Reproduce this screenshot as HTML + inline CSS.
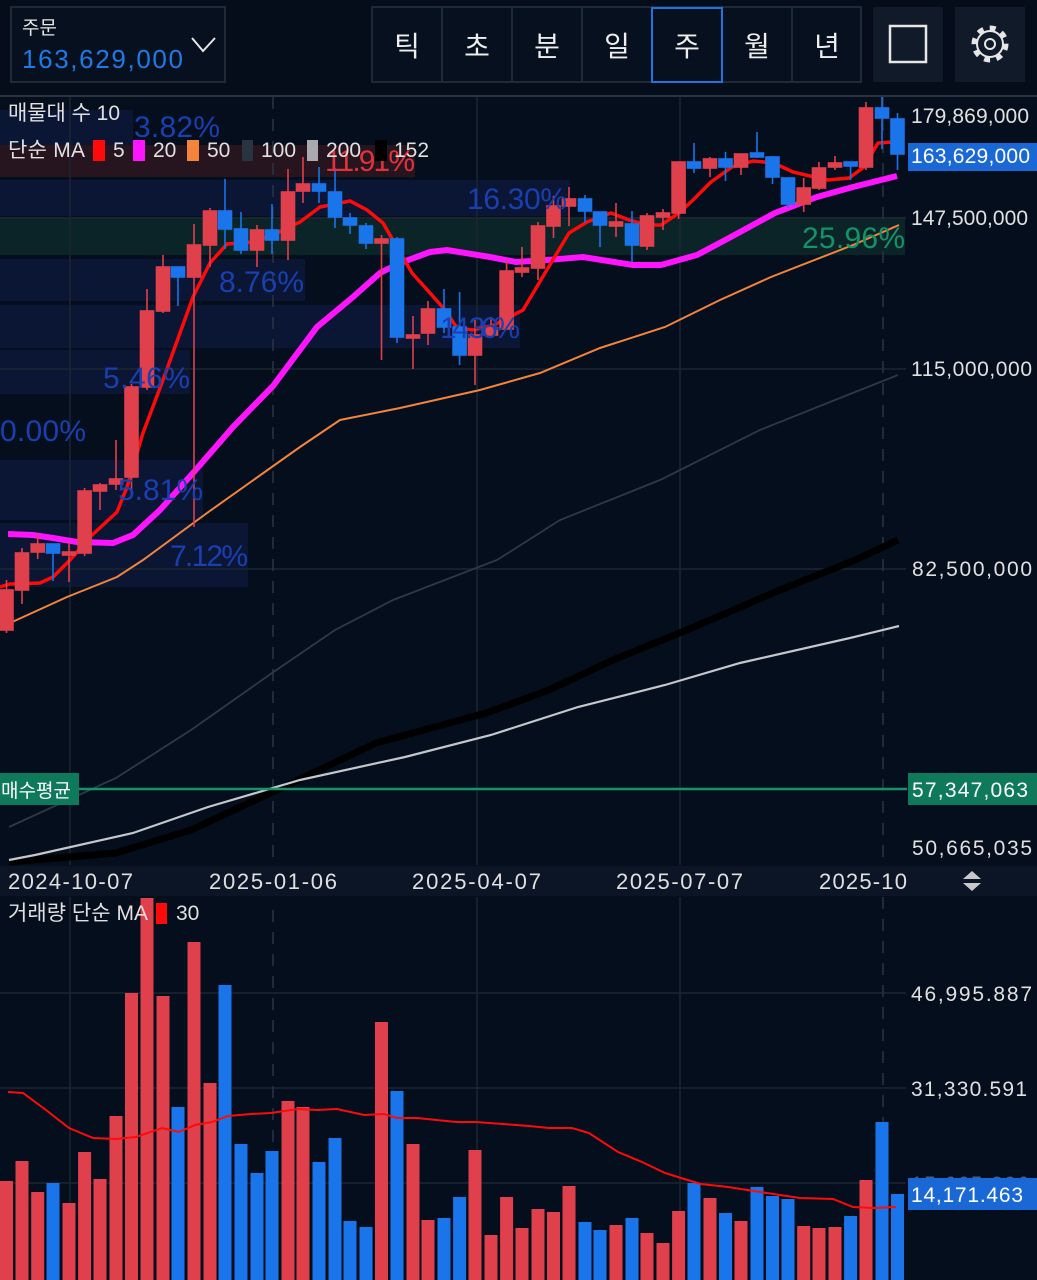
<!DOCTYPE html>
<html><head><meta charset="utf-8"><style>
html,body{margin:0;padding:0;background:#050d1b;}
svg{display:block;font-family:"Liberation Sans","Noto Sans CJK KR",sans-serif;}
</style></head><body>
<svg width="1037" height="1280" viewBox="0 0 1037 1280" xmlns="http://www.w3.org/2000/svg">
<rect width="1037" height="1280" fill="#050e1c"/>
<rect x="0" y="0" width="1037" height="95" fill="#050d1a"/>
<rect x="11" y="7" width="214" height="75" fill="#07101e" stroke="#1f2a38" stroke-width="2"/>
<text x="22" y="34" fill="#e6e6e6" font-size="19">주문</text>
<text x="22" y="68" fill="#1f7ae6" font-size="26" textLength="161">163,629,000</text>
<polyline points="192,38 203,51 215,38" fill="none" stroke="#e6e6e6" stroke-width="2"/>
<rect x="372" y="7" width="489" height="75" fill="#07101e" stroke="#1f2a38" stroke-width="2"/>
<g stroke="#1f2a38" stroke-width="2"><line x1="442" y1="8" x2="442" y2="81"/><line x1="512" y1="8" x2="512" y2="81"/><line x1="582" y1="8" x2="582" y2="81"/><line x1="652" y1="8" x2="652" y2="81"/><line x1="722" y1="8" x2="722" y2="81"/><line x1="792" y1="8" x2="792" y2="81"/></g>
<rect x="652" y="8" width="70" height="74" fill="none" stroke="#1f74e0" stroke-width="2"/>
<g fill="#eeeeee" font-size="28" text-anchor="middle"><text x="407" y="56">틱</text><text x="477" y="56">초</text><text x="547" y="56">분</text><text x="617" y="56">일</text><text x="687" y="56">주</text><text x="757" y="56">월</text><text x="827" y="56">년</text></g>
<rect x="873" y="7" width="70" height="75" fill="#111a28"/>
<rect x="890" y="26" width="36" height="36" fill="none" stroke="#e6e6e6" stroke-width="2.5"/>
<rect x="955" y="7" width="70" height="75" fill="#111a28"/>
<circle cx="990" cy="44" r="16" fill="none" stroke="#e6e6e6" stroke-width="5" stroke-dasharray="6 6.5"/>
<circle cx="990" cy="44" r="13" fill="#111a28" stroke="#e6e6e6" stroke-width="2"/>
<circle cx="990" cy="44" r="5" fill="none" stroke="#e6e6e6" stroke-width="2"/>
<line x1="0" y1="96" x2="1037" y2="96" stroke="#2a3340" stroke-width="2"/>

<g fill="#0a1634">
<rect x="0" y="110" width="133" height="35"/>
<rect x="0" y="180" width="570" height="36"/>
<rect x="0" y="259" width="305" height="42"/>
<rect x="0" y="305" width="520" height="43"/>
<rect x="0" y="350" width="190" height="44"/>
<rect x="0" y="460" width="203" height="60"/>
<rect x="0" y="523" width="248" height="64"/>
</g>
<rect x="0" y="145" width="415" height="32" fill="#26151f"/>
<rect x="0" y="217" width="905" height="38" fill="#0a2427"/>

<g stroke="#1c2532" stroke-width="1.5">
<line x1="0" y1="218" x2="906" y2="218"/><line x1="0" y1="369" x2="906" y2="369"/><line x1="0" y1="569" x2="906" y2="569"/>
<line x1="70" y1="97" x2="70" y2="865"/><line x1="477" y1="97" x2="477" y2="865"/><line x1="680" y1="97" x2="680" y2="865"/>
<line x1="70" y1="897" x2="70" y2="1280"/><line x1="477" y1="897" x2="477" y2="1280"/><line x1="680" y1="897" x2="680" y2="1280"/>
<line x1="0" y1="993" x2="906" y2="993"/><line x1="0" y1="1088" x2="906" y2="1088"/><line x1="0" y1="1183" x2="906" y2="1183"/>
</g>
<g stroke="#2a3442" stroke-width="1.5" stroke-dasharray="12 10">
<line x1="273" y1="97" x2="273" y2="865"/><line x1="273" y1="910" x2="273" y2="1280"/>
<line x1="883" y1="97" x2="883" y2="865"/><line x1="883" y1="897" x2="883" y2="1280"/>
</g>

<polyline fill="none" stroke="#2f3946" stroke-width="1.8" points="9,827 116,778 191,730 272,673 335,630 393,600 497,560 560,520 660,480 760,430 840,398 898,375"/>
<polyline fill="none" stroke="#000000" stroke-width="7" points="9,862 116,853 191,830 277,790 376,743 486,713 549,690 613,660 694,627 780,590 855,560 898,540"/>
<polyline fill="none" stroke="#c4c8cc" stroke-width="2.2" points="9,860 35,855 133,833 208,807 300,780 405,757 491,735 578,707 665,685 740,663 850,638 899,626"/>
<polyline fill="none" stroke="#f4843c" stroke-width="2" points="10,623 67,597 117,577 143,560 207,513 300,447 340,420 400,408 480,390 540,373 600,348 665,327 720,300 771,277 853,245 899,225"/>
<polyline fill="none" stroke="#ff14ff" stroke-width="6" points="8,534 33,535 53,538 77,542 113,543 133,535 160,510 193,473 233,427 273,386 317,327 353,297 380,273 400,263 430,252 447,250 490,257 516,262 547,260 583,257 633,265 661,265 697,255 729,238 775,213 817,197 853,187 897,176"/>
<polyline fill="none" stroke="#ff0a0a" stroke-width="3.5" points="0,587 10,584 40,583 53,577 70,560 90,537 117,512 127,487 143,433 163,380 193,297 210,263 227,244 253,242 277,233 300,222 320,207 350,201 367,210 383,223 412,273 430,293 445,310 457,328 473,330 494,325 523,310 551,263 569,233 587,222 611,213 629,220 647,225 661,225 679,213 693,200 711,182 732,167 753,161 764,162 778,165 793,172 810,176 828,180 849,178 864,167 878,143 892,142"/>

<line x1="0" y1="789" x2="907" y2="789" stroke="#15946a" stroke-width="2.5"/>
<rect x="0" y="773" width="79" height="32" fill="#0f7a5b"/>
<text x="1" y="797" fill="#ffffff" font-size="19">매수평균</text>

<g stroke-width="1.6">
<g stroke="#e0404b" fill="#e0404b">
<line x1="6.5" y1="580" x2="6.5" y2="633"/><rect x="0" y="590" width="13" height="40"/>
<line x1="22" y1="548" x2="22" y2="604"/><rect x="15.5" y="553" width="13" height="37"/>
<line x1="37.7" y1="534" x2="37.7" y2="559"/><rect x="31.2" y="544" width="13" height="8"/>
<line x1="69" y1="542" x2="69" y2="582"/><rect x="62.5" y="552" width="13" height="3"/>
<line x1="84.6" y1="488" x2="84.6" y2="556"/><rect x="78.1" y="491" width="13" height="62"/>
<line x1="100" y1="483" x2="100" y2="510"/><rect x="93.5" y="485" width="13" height="6"/>
<line x1="116" y1="440" x2="116" y2="490"/><rect x="109.5" y="479" width="13" height="5"/>
<line x1="131.5" y1="384" x2="131.5" y2="495"/><rect x="125" y="387" width="13" height="90"/>
<line x1="147" y1="289" x2="147" y2="390"/><rect x="140.5" y="311" width="13" height="76"/>
<line x1="163" y1="255" x2="163" y2="313"/><rect x="156.5" y="267" width="13" height="44"/>
<line x1="194" y1="224" x2="194" y2="527"/><rect x="187.5" y="245" width="13" height="32"/>
<line x1="210" y1="208" x2="210" y2="267"/><rect x="203.5" y="211" width="13" height="34"/>
<line x1="257" y1="225" x2="257" y2="267"/><rect x="250.5" y="230" width="13" height="20"/>
<line x1="288" y1="169" x2="288" y2="260"/><rect x="281.5" y="192" width="13" height="48"/>
<line x1="303" y1="157" x2="303" y2="203"/><rect x="296.5" y="184" width="13" height="7"/>
<line x1="381.5" y1="235" x2="381.5" y2="360"/><rect x="375" y="239" width="13" height="4"/>
<line x1="413" y1="316" x2="413" y2="369"/><rect x="406.5" y="335" width="13" height="3"/>
<line x1="428" y1="301" x2="428" y2="345"/><rect x="421.5" y="309" width="13" height="24"/>
<line x1="475" y1="320" x2="475" y2="385"/><rect x="468.5" y="335" width="13" height="20"/>
<line x1="491" y1="317" x2="491" y2="337"/><rect x="484.5" y="328" width="13" height="7"/>
<line x1="506.6" y1="260" x2="506.6" y2="330"/><rect x="500.1" y="271" width="13" height="58"/>
<line x1="522" y1="247" x2="522" y2="277"/><rect x="515.5" y="268" width="13" height="4"/>
<line x1="538" y1="222" x2="538" y2="280"/><rect x="531.5" y="226" width="13" height="42"/>
<line x1="553.5" y1="196" x2="553.5" y2="238"/><rect x="547" y="206" width="13" height="20"/>
<line x1="569" y1="187" x2="569" y2="226"/><rect x="562.5" y="199" width="13" height="7"/>
<line x1="616" y1="203" x2="616" y2="237"/><rect x="609.5" y="222" width="13" height="4"/>
<line x1="647" y1="213" x2="647" y2="250"/><rect x="640.5" y="216" width="13" height="30"/>
<line x1="663" y1="209" x2="663" y2="230"/><rect x="656.5" y="213" width="13" height="4"/>
<line x1="678.6" y1="162" x2="678.6" y2="219"/><rect x="672.1" y="162" width="13" height="51"/>
<line x1="710" y1="157" x2="710" y2="177"/><rect x="703.5" y="159" width="13" height="9"/>
<line x1="741" y1="154" x2="741" y2="175"/><rect x="734.5" y="154" width="13" height="13"/>
<line x1="803.7" y1="178" x2="803.7" y2="212"/><rect x="797.2" y="188" width="13" height="16"/>
<line x1="819" y1="162" x2="819" y2="190"/><rect x="812.5" y="168" width="13" height="20"/>
<line x1="835" y1="156" x2="835" y2="170"/><rect x="828.5" y="163" width="13" height="4"/>
<line x1="866" y1="102" x2="866" y2="170"/><rect x="859.5" y="108" width="13" height="59"/>
</g>
<g stroke="#1a74ea" fill="#1a74ea">
<line x1="53" y1="544" x2="53" y2="581"/><rect x="46.5" y="544" width="13" height="9"/>
<line x1="178" y1="267" x2="178" y2="306"/><rect x="171.5" y="267" width="13" height="10"/>
<line x1="225" y1="179" x2="225" y2="249"/><rect x="218.5" y="211" width="13" height="18"/>
<line x1="241" y1="212" x2="241" y2="254"/><rect x="234.5" y="229" width="13" height="21"/>
<line x1="272" y1="204" x2="272" y2="254"/><rect x="265.5" y="230" width="13" height="10"/>
<line x1="319" y1="167" x2="319" y2="203"/><rect x="312.5" y="184" width="13" height="7"/>
<line x1="335" y1="168" x2="335" y2="228"/><rect x="328.5" y="192" width="13" height="25"/>
<line x1="350" y1="213" x2="350" y2="234"/><rect x="343.5" y="218" width="13" height="7"/>
<line x1="366" y1="223" x2="366" y2="249"/><rect x="359.5" y="226" width="13" height="17"/>
<line x1="397" y1="237" x2="397" y2="343"/><rect x="390.5" y="239" width="13" height="98"/>
<line x1="444" y1="289" x2="444" y2="333"/><rect x="437.5" y="309" width="13" height="18"/>
<line x1="459.6" y1="292" x2="459.6" y2="365"/><rect x="453.1" y="327" width="13" height="28"/>
<line x1="585" y1="195" x2="585" y2="223"/><rect x="578.5" y="199" width="13" height="12"/>
<line x1="600" y1="212" x2="600" y2="247"/><rect x="593.5" y="212" width="13" height="13"/>
<line x1="632" y1="211" x2="632" y2="262"/><rect x="625.5" y="224" width="13" height="21"/>
<line x1="694" y1="143" x2="694" y2="173"/><rect x="687.5" y="162" width="13" height="6"/>
<line x1="725.5" y1="152" x2="725.5" y2="181"/><rect x="719" y="159" width="13" height="8"/>
<line x1="757" y1="132" x2="757" y2="158"/><rect x="750.5" y="153" width="13" height="4"/>
<line x1="772.5" y1="156" x2="772.5" y2="184"/><rect x="766" y="157" width="13" height="20"/>
<line x1="788" y1="178" x2="788" y2="208"/><rect x="781.5" y="178" width="13" height="26"/>
<line x1="850.6" y1="162" x2="850.6" y2="180"/><rect x="844.1" y="162" width="13" height="4"/>
<line x1="882" y1="97" x2="882" y2="149"/><rect x="875.5" y="108" width="13" height="10"/>
<line x1="897.5" y1="113" x2="897.5" y2="170"/><rect x="891" y="119" width="13" height="35"/>
</g>
</g>

<g font-size="30">
<text x="134" y="137" fill="#1a3fb0" textLength="86">3.82%</text>
<text x="325" y="171" fill="#e0323c" textLength="90">11.91%</text>
<text x="467" y="209" fill="#1a3fb0" textLength="100">16.30%</text>
<text x="802" y="248" fill="#14936a" textLength="103">25.96%</text>
<text x="219" y="292" fill="#1a3fb0" textLength="85">8.76%</text>
<text x="440" y="338" fill="#1a3fb0" textLength="80">14.36%</text>
<text x="103" y="388" fill="#1a3fb0" textLength="87">5.46%</text>
<text x="0" y="441" fill="#1a3fb0" textLength="86">0.00%</text>
<text x="118" y="500" fill="#1a3fb0" textLength="85">5.81%</text>
<text x="170" y="566" fill="#1a3fb0" textLength="78">7.12%</text>
</g>

<text x="8" y="120" fill="#e0e0e0" font-size="21" textLength="112">매물대 수 10</text>
<text x="8" y="157" fill="#e0e0e0" font-size="21" textLength="77">단순 MA</text>
<rect x="93" y="140" width="12" height="21" fill="#ff0a0a"/><text x="113" y="157" fill="#e0e0e0" font-size="21">5</text>
<rect x="133" y="140" width="12" height="21" fill="#ff14ff"/><text x="153" y="157" fill="#e0e0e0" font-size="21">20</text>
<rect x="187" y="140" width="12" height="21" fill="#f4843c"/><text x="207" y="157" fill="#e0e0e0" font-size="21">50</text>
<rect x="242" y="140" width="11" height="21" fill="#2a3440"/><text x="261" y="157" fill="#e0e0e0" font-size="21">100</text>
<rect x="307" y="140" width="11" height="21" fill="#a8aaac"/><text x="326" y="157" fill="#e0e0e0" font-size="21">200</text>
<rect x="375" y="140" width="12" height="21" fill="#000"/><text x="394" y="157" fill="#e0e0e0" font-size="21">152</text>

<g fill="#e0e0e0" font-size="21">
<text x="911" y="123" textLength="118">179,869,000</text>
<text x="911" y="225" textLength="117">147,500,000</text>
<text x="911" y="376" textLength="121">115,000,000</text>
<text x="912" y="576" textLength="120">82,500,000</text>
<text x="912" y="855" textLength="120">50,665,035</text>
</g>
<rect x="908" y="143" width="129" height="28" fill="#1a68d6"/>
<text x="911" y="163" fill="#ffffff" font-size="21" textLength="119">163,629,000</text>
<rect x="908" y="773" width="129" height="32" fill="#0f7a5b"/>
<text x="912" y="797" fill="#ffffff" font-size="21" textLength="116">57,347,063</text>

<rect x="0" y="866" width="1037" height="30" fill="#0c1526"/>
<g fill="#e0e0e0" font-size="22">
<text x="8" y="889" textLength="125">2024-10-07</text><text x="209" y="889" textLength="128">2025-01-06</text><text x="412" y="889" textLength="129">2025-04-07</text><text x="616" y="889" textLength="127">2025-07-07</text><text x="819" y="889" textLength="88">2025-10</text>
</g>
<polygon points="963,879 972,871 981,879" fill="#c8c8c8"/><polygon points="963,883 972,891 981,883" fill="#c8c8c8"/>

<g fill="#e0404b">
<rect x="0" y="1181" width="13" height="99"/><rect x="15.5" y="1161" width="13" height="119"/><rect x="31.2" y="1192" width="13" height="88"/>
<rect x="62.5" y="1203" width="13" height="77"/><rect x="78.1" y="1152" width="13" height="128"/><rect x="93.5" y="1179" width="13" height="101"/>
<rect x="109.5" y="1116" width="13" height="164"/><rect x="125" y="993" width="13" height="287"/><rect x="140.5" y="898" width="13" height="382"/>
<rect x="156.5" y="996" width="13" height="284"/><rect x="187.5" y="942" width="13" height="338"/><rect x="203.5" y="1083" width="13" height="197"/>
<rect x="265.5" y="1173" width="13" height="107"/><rect x="281.5" y="1101" width="13" height="179"/><rect x="296.5" y="1107" width="13" height="173"/>
<rect x="375" y="1022" width="13" height="258"/><rect x="406.5" y="1144" width="13" height="136"/><rect x="421.5" y="1220" width="13" height="60"/>
<rect x="468.5" y="1150" width="13" height="130"/><rect x="484.5" y="1235" width="13" height="45"/><rect x="500.1" y="1197" width="13" height="83"/>
<rect x="515.5" y="1228" width="13" height="52"/><rect x="531.5" y="1209" width="13" height="71"/><rect x="547" y="1212" width="13" height="68"/>
<rect x="562.5" y="1186" width="13" height="94"/><rect x="609.5" y="1225" width="13" height="55"/><rect x="640.5" y="1233" width="13" height="47"/>
<rect x="656.5" y="1243" width="13" height="37"/><rect x="672.1" y="1211" width="13" height="69"/><rect x="703.5" y="1198" width="13" height="82"/>
<rect x="734.5" y="1221" width="13" height="59"/><rect x="797.2" y="1226" width="13" height="54"/><rect x="812.5" y="1228" width="13" height="52"/>
<rect x="828.5" y="1227" width="13" height="53"/><rect x="859.5" y="1180" width="13" height="100"/>
</g>
<g fill="#1a74ea">
<rect x="46.5" y="1183" width="13" height="97"/><rect x="171.5" y="1107" width="13" height="173"/><rect x="218.5" y="985" width="13" height="295"/>
<rect x="234.5" y="1144" width="13" height="136"/><rect x="250.5" y="1173" width="13" height="107"/><rect x="265.5" y="1151" width="13" height="129"/>
<rect x="312.5" y="1162" width="13" height="118"/><rect x="328.5" y="1138" width="13" height="142"/><rect x="343.5" y="1221" width="13" height="59"/>
<rect x="359.5" y="1227" width="13" height="53"/><rect x="390.5" y="1091" width="13" height="189"/><rect x="437.5" y="1218" width="13" height="62"/>
<rect x="453.1" y="1197" width="13" height="83"/><rect x="578.5" y="1222" width="13" height="58"/><rect x="593.5" y="1230" width="13" height="50"/>
<rect x="625.5" y="1218" width="13" height="62"/><rect x="687.5" y="1183" width="13" height="97"/><rect x="719" y="1213" width="13" height="67"/>
<rect x="750.5" y="1187" width="13" height="93"/><rect x="766" y="1196" width="13" height="84"/><rect x="781.5" y="1199" width="13" height="81"/>
<rect x="844.1" y="1216" width="13" height="64"/><rect x="875.5" y="1122" width="13" height="158"/><rect x="891" y="1194" width="13" height="86"/>
</g>
<polyline fill="none" stroke="#ff0a0a" stroke-width="2" points="8,1092 23,1093 46,1110 69,1128 93,1138 116,1139 136,1137 162,1128 179,1132 195,1125 212,1122 228,1116 251,1114 271,1113 298,1109 317,1110 337,1109 364,1115 384,1114 397,1118 417,1118 456,1122 476,1122 503,1124 529,1126 549,1128 572,1128 589,1133 618,1152 642,1162 665,1173 681,1178 701,1184 728,1187 754,1191 780,1195 800,1198 833,1199 853,1207 873,1208 896,1207"/>
<text x="8" y="920" fill="#e0e0e0" font-size="21" textLength="140">거래량 단순 MA</text>
<rect x="156" y="903" width="11" height="21" fill="#ff0a0a"/>
<text x="176" y="920" fill="#e0e0e0" font-size="21">30</text>
<g fill="#e0e0e0" font-size="21">
<text x="911" y="1001" textLength="121">46,995.887</text>
<text x="911" y="1096" textLength="116">31,330.591</text>
</g>
<text x="911" y="1191" fill="#3a5f9a" font-size="21" textLength="118">15,665,296</text>
<rect x="908" y="1178" width="129" height="32" fill="#1a68d6"/>
<text x="911" y="1202" fill="#ffffff" font-size="21" textLength="112">14,171.463</text>
</svg>
</body></html>
